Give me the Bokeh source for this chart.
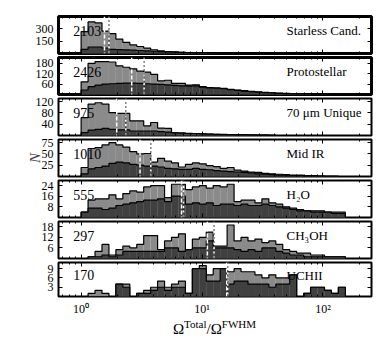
import numpy as np
from bokeh.plotting import figure
from bokeh.models import FixedTicker, LinearAxis, LogAxis, Range1d, Label, Span, Div
from bokeh.layouts import column
from bokeh.embed import file_html
from bokeh.resources import INLINE

FONT = "Liberation Serif"

# 40 equal-width bins in log10(Omega_tot/Omega_FWHM), from 1 upward
bin_log_width = 0.0575
n_bins = 40

panel_labels = ["Starless Cand.", "Protostellar", "70 \u03bcm Unique", "Mid IR",
                "H\u2082O", "CH\u2083OH", "UCHII"]
panel_counts = ["2103", "2426", "975", "1010", "555", "297", "170"]
y_max = [445, 213, 131, 82, 27.8, 21, 11]
y_ticks = [[150, 300], [60, 120, 180], [40, 80, 120], [25, 50, 75],
           [8, 16, 24], [6, 12, 18], [3, 6, 9]]
median_a = [1.56, 2.62, 1.97, 3.07, 6.77, 11.07, 16.0]
median_b = [1.70, 3.32, 2.34, 3.77, 7.03, 12.57, 16.3]
x_tick_labels = {1: "10\u2070", 10: "10\u00b9", 100: "10\u00b2"}

starless_all = [262, 380, 368, 270, 238, 172, 134, 103, 84, 65, 45, 31, 24, 20, 14, 11, 9, 7, 6, 5,
                4, 3, 3, 2, 2, 2, 1, 1, 1, 1, 0, 0, 0, 0, 0, 0, 0, 0, 0, 0]
starless_sub = [50, 78, 78, 66, 50, 46, 43, 40, 36, 31, 27, 23, 19, 16, 13, 10, 8, 7, 5, 4,
                3, 3, 2, 2, 1, 1, 1, 1, 0, 0, 0, 0, 0, 0, 0, 0, 0, 0, 0, 0]
proto_all = [73, 179, 189, 189, 187, 165, 157, 148, 134, 129, 116, 78, 82, 64, 64, 54, 56, 45, 40, 38,
             35, 30, 25, 22, 18, 15, 12, 10, 8, 6, 5, 4, 3, 2, 2, 1, 0, 0, 0, 0]
proto_sub = [26, 45, 54, 60, 62, 64, 66, 66, 64, 62, 60, 58, 55, 52, 50, 48, 50, 42, 38, 36,
             33, 28, 24, 20, 17, 14, 11, 9, 7, 5, 4, 3, 3, 2, 1, 1, 0, 0, 0, 0]
unique70_all = [63, 111, 116, 111, 81, 78, 78, 52, 52, 34, 46, 26, 25, 9, 9, 8, 7, 6, 5, 4,
                4, 3, 3, 2, 2, 1, 1, 1, 0, 0, 0, 0, 0, 0, 0, 0, 0, 0, 0, 0]
unique70_sub = [10, 19, 22, 25, 22, 20, 20, 16, 16, 16, 16, 14, 12, 9, 8, 7, 7, 6, 5, 4,
                3, 3, 2, 2, 1, 1, 1, 0, 0, 0, 0, 0, 0, 0, 0, 0, 0, 0, 0, 0]
midir_all = [20, 62, 64, 70, 75, 70, 65, 55, 50, 51, 32, 40, 34, 30, 21, 27, 30, 28, 24, 22,
             18, 20, 14, 12, 10, 9, 7, 6, 5, 4, 3, 3, 2, 2, 1, 1, 1, 0, 0, 0]
midir_sub = [6, 17, 20, 23, 29, 32, 30, 27, 25, 23, 23, 21, 18, 17, 16, 16, 18, 16, 15, 13,
             12, 11, 10, 9, 8, 6, 5, 4, 3, 3, 2, 2, 1, 1, 1, 0, 0, 0, 0, 0]
h2o_all = [4, 13, 14, 14, 17, 14, 18, 20, 19, 23, 24, 24, 15, 25, 25, 21, 23, 24, 22, 24,
           23, 25, 12, 13, 13, 11, 14, 11, 10, 8, 7, 6, 5, 5, 5, 4, 4, 4, 0, 0]
h2o_sub = [4, 7, 7, 6, 7, 9, 10, 11, 12, 13, 13, 14, 12, 16, 16, 10, 11, 10, 11, 9,
           10, 10, 9, 10, 9, 9, 10, 9, 8, 7, 6, 5, 5, 4, 4, 4, 3, 3, 0, 0]
ch3oh_all = [0, 1, 4, 8, 2, 5, 7, 6, 8, 13, 13, 5, 10, 12, 14, 5, 11, 12, 15, 7,
             7, 19, 10, 12, 10, 11, 9, 10, 8, 5, 4, 3, 3, 2, 2, 1, 1, 1, 0, 0]
ch3oh_sub = [0, 1, 1, 2, 1, 2, 4, 4, 4, 4, 4, 4, 6, 6, 4, 5, 6, 6, 10, 6,
             6, 6, 5, 4, 5, 4, 6, 6, 4, 3, 2, 2, 1, 1, 1, 1, 1, 1, 0, 0]
uchii_all = [0, 1, 2, 1, 0, 4, 4, 0, 1, 2, 3, 5, 3, 4, 5, 1, 9, 10, 7, 9,
             9, 8, 9, 8, 8, 7, 6, 7, 6, 6, 7, 0, 1, 3, 3, 2, 1, 3, 0, 0]
uchii_sub = [0, 0, 0, 0, 0, 4, 3, 0, 1, 1, 2, 3, 2, 3, 3, 1, 9, 9, 5, 5,
             9, 4, 5, 5, 4, 4, 4, 3, 4, 4, 7, 0, 1, 3, 3, 2, 1, 3, 0, 0]

all_series = [starless_all, proto_all, unique70_all, midir_all, h2o_all, ch3oh_all, uchii_all]
sub_series = [starless_sub, proto_sub, unique70_sub, midir_sub, h2o_sub, ch3oh_sub, uchii_sub]

edges = 10 ** (bin_log_width * np.arange(n_bins + 1))
x_minor = [0.7, 0.8, 0.9, 2, 3, 4, 5, 6, 7, 8, 9, 20, 30, 40, 50, 60, 70, 80, 90, 200]

LIGHT = "#8a8a8a"
DARK = "#404040"


def step_outline(counts):
    xs, ys = [edges[0]], [0]
    for i, c in enumerate(counts):
        xs += [edges[i], edges[i + 1]]
        ys += [c, c]
    xs.append(edges[-1])
    ys.append(0)
    return xs, ys


def style_axis(ax, labels):
    ax.axis_line_color = None
    ax.major_tick_in = 4
    ax.major_tick_out = 0
    ax.minor_tick_in = 2
    ax.minor_tick_out = 0
    ax.major_tick_line_color = "black"
    ax.minor_tick_line_color = "black"
    if labels:
        ax.major_label_text_font = FONT
        ax.major_label_text_font_size = "12px"
        ax.major_label_text_color = "black"
        ax.major_label_standoff = 5
    else:
        ax.major_label_text_font_size = "1px"
        ax.major_label_text_alpha = 0
        ax.major_label_standoff = 0


figs = []
for i in range(7):
    first = i == 0
    last = i == 6
    top_b = 16 if first else 2
    bot_b = 19 if last else 2
    h = top_b + 37 + bot_b
    p = figure(width=382, height=h, x_axis_type="log",
               x_range=Range1d(0.65, 252), y_range=Range1d(0, y_max[i]),
               output_backend="svg", toolbar_location=None,
               min_border_left=58, min_border_right=11,
               min_border_top=top_b, min_border_bottom=bot_b)
    p.xgrid.visible = False
    p.ygrid.visible = False
    p.outline_line_color = "black"
    p.outline_line_width = 3 if i < 2 else 2
    p.background_fill_color = "white"
    p.border_fill_color = "white"

    bx = p.xaxis[0]
    bx.ticker = FixedTicker(ticks=[1, 10, 100], minor_ticks=x_minor)
    style_axis(bx, last)
    if last:
        bx.major_label_overrides = x_tick_labels
    ly = p.yaxis[0]
    ly.ticker = FixedTicker(ticks=y_ticks[i])
    style_axis(ly, True)
    if i == 3:
        ly.axis_label = "N"
        ly.axis_label_text_font = FONT
        ly.axis_label_text_font_style = "italic"
        ly.axis_label_text_font_size = "15px"
        ly.axis_label_standoff = -4

    ta = LogAxis(ticker=FixedTicker(ticks=[1, 10, 100], minor_ticks=x_minor))
    style_axis(ta, False)
    p.add_layout(ta, "above")
    ra = LinearAxis(ticker=FixedTicker(ticks=y_ticks[i]))
    style_axis(ra, False)
    p.add_layout(ra, "right")

    tot = all_series[i]
    sub = sub_series[i]
    p.quad(left=edges[:-1], right=edges[1:], bottom=0, top=tot,
           fill_color=LIGHT, line_color=None)
    xs, ys = step_outline(tot)
    p.line(xs, ys, line_color="black", line_width=1.2)
    p.quad(left=edges[:-1], right=edges[1:], bottom=0, top=sub,
           fill_color=DARK, line_color=None)
    xs, ys = step_outline(sub)
    p.line(xs, ys, line_color="black", line_width=1.2)

    p.add_layout(Span(location=median_a[i], dimension="height", line_color="white",
                      line_dash="4 2", line_width=1.5))
    p.add_layout(Span(location=median_b[i], dimension="height", line_color="white",
                      line_dash="3 2", line_width=1.5))
    p.add_layout(Span(location=median_b[i], dimension="height", line_color="black",
                      line_dash="1 3", line_width=1.5))

    p.add_layout(Label(x=0.86, y=0.62 * y_max[i], text=panel_counts[i],
                       text_font=FONT, text_font_size="14px", text_align="left",
                       text_baseline="middle", text_color="black"))
    p.add_layout(Label(x=50, y=0.62 * y_max[i], text=panel_labels[i],
                       text_font=FONT, text_font_size="13px", text_align="left",
                       text_baseline="middle", text_color="black"))
    figs.append(p)

x_label = Div(
    text='\u03a9<sup style="font-size:11px;line-height:0">Total</sup>/\u03a9'
         '<sup style="font-size:11px;line-height:0">FWHM</sup>',
    width=313, height=22, margin=(0, 0, 0, 58),
    styles={"font-family": "Liberation Serif", "font-size": "15px", "text-align": "center",
            "color": "black", "line-height": "20px", "padding-top": "1px",
            "overflow": "visible"})

layout = column(*figs, x_label, spacing=0)
open("out.html", "w").write(file_html(layout, INLINE))
